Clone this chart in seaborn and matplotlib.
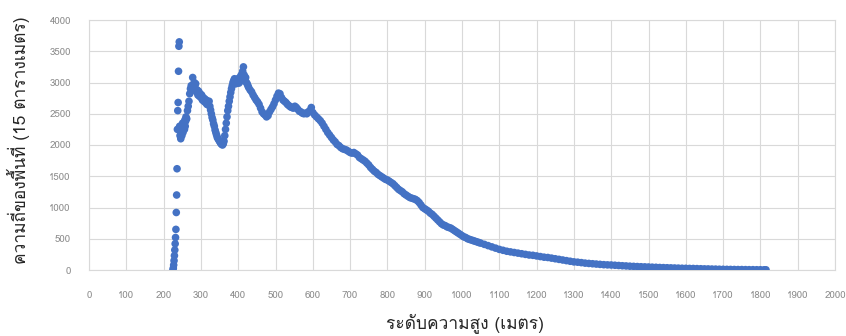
import matplotlib
matplotlib.use("Agg")
import matplotlib.pyplot as plt
import seaborn as sns
import pandas as pd
from matplotlib import font_manager

# ---------------- data ----------------
elevation = [
    225, 226, 227, 228, 229, 230, 231, 232, 233, 234, 235, 236, 237, 238, 239, 240,
    241, 242, 243, 244, 245, 246, 247, 248, 249, 250, 251, 252, 253, 254, 255, 256,
    257, 258, 259, 260,
    262, 264, 266, 268, 270, 272, 274, 276, 278, 280, 282, 284, 286, 288, 290, 292,
    294, 296, 298, 300, 302, 304, 306, 308, 310, 312, 314, 316, 318, 320, 322, 324,
    326, 328, 330, 332, 334, 336, 338, 340, 342, 344, 346, 348, 350, 352, 354, 356,
    358, 360, 362, 364, 366, 368, 370, 372, 374, 376, 378, 380, 382, 384, 386, 388,
    390, 392, 394, 396, 398, 400, 402, 404, 406, 408, 410, 412, 414, 416, 418, 420,
    422, 424, 426, 428,
    432, 436, 440, 444, 448, 452, 456, 460, 464, 468, 472, 476, 480, 484, 488, 492,
    496, 500, 504, 508, 512, 516, 520, 524, 528, 532, 536, 540, 544, 548, 552, 556,
    560, 564, 568, 572, 576, 580, 584, 588, 592, 596, 600,
    605, 610, 615, 620, 625, 630, 635, 640, 645, 650, 655, 660, 665, 670, 675, 680,
    685, 690, 695, 700, 705, 710, 715, 720, 725, 730, 735, 740, 745, 750, 755, 760,
    765, 770, 775, 780, 785, 790, 795, 800, 805, 810, 815, 820, 825, 830, 835, 840,
    845, 850, 855, 860, 865, 870, 875, 880, 885, 890, 895, 900, 905, 910, 915, 920,
    925, 930, 935, 940, 945, 950, 955, 960, 965, 970, 975, 980, 985, 990, 995, 1000,
    1005, 1010, 1015, 1020, 1025, 1030, 1035, 1040, 1045, 1050,
    1060, 1070, 1080, 1090, 1100, 1110, 1120, 1130, 1140, 1150, 1160, 1170, 1180,
    1190, 1200, 1210, 1220, 1230, 1240, 1250, 1260, 1270, 1280, 1290, 1300, 1310,
    1320, 1330, 1340, 1350, 1360, 1370, 1380, 1390, 1400, 1410, 1420, 1430, 1440,
    1450, 1460, 1470, 1480, 1490, 1500, 1510, 1520, 1530, 1540, 1550, 1560, 1570,
    1580, 1590, 1600, 1610, 1620, 1630, 1640, 1650, 1660, 1670, 1680, 1690, 1700,
    1710, 1720, 1730, 1740, 1750, 1760, 1770, 1780, 1790, 1800, 1810, 1815,
]
frequency = [
    0, 30, 80, 150, 230, 320, 420, 520, 650, 920, 1200, 1620, 2250, 2550, 2680, 3180,
    3580, 3650, 2300, 2150, 2250, 2100, 2200, 2300, 2150, 2250, 2350, 2200, 2300, 2280, 2350, 2250,
    2400, 2300, 2380, 2450,
    2420, 2550, 2620, 2700, 2820, 2900, 2950, 2880, 3080, 2950, 3000, 2920, 2980, 2850, 2880, 2800,
    2860, 2780, 2820, 2760, 2800, 2720, 2760, 2700, 2740, 2680, 2720, 2650, 2700, 2640, 2700, 2620,
    2560, 2500, 2440, 2400, 2340, 2300, 2240, 2200, 2160, 2120, 2100, 2080, 2060, 2040, 2020, 2010,
    2000, 2020, 2060, 2150, 2250, 2350, 2450, 2550, 2620, 2700, 2770, 2840, 2900, 2950, 3000, 3030,
    3060, 3000, 2980, 3040, 3000, 3060, 2990, 3080, 3020, 3120, 3050, 3180, 3250, 3120, 3050, 3080,
    3000, 2980, 2950, 2920,
    2880, 2850, 2800, 2760, 2720, 2690, 2650, 2590, 2530, 2500, 2480, 2450, 2470, 2530, 2570, 2610,
    2660, 2720, 2780, 2830, 2820, 2760, 2720, 2700, 2680, 2650, 2630, 2610, 2600, 2590, 2620, 2600,
    2570, 2540, 2530, 2510, 2500, 2510, 2500, 2530, 2550, 2600, 2520,
    2480, 2450, 2420, 2390, 2350, 2300, 2250, 2200, 2160, 2120, 2080, 2050, 2010, 1990, 1960, 1940,
    1930, 1920, 1900, 1880, 1870, 1880, 1860, 1840, 1800, 1780, 1760, 1740, 1710, 1680, 1640, 1610,
    1580, 1560, 1530, 1510, 1490, 1470, 1450, 1440, 1420, 1400, 1380, 1350, 1320, 1290, 1270, 1250,
    1220, 1200, 1180, 1160, 1150, 1140, 1130, 1110, 1080, 1040, 1000, 980, 960, 940, 910, 890,
    860, 830, 800, 770, 740, 720, 710, 690, 680, 670, 650, 630, 610, 590, 570, 550,
    530, 520, 500, 490, 480, 470, 460, 450, 440, 430,
    410, 390, 370, 350, 330, 315, 300, 290, 280, 270, 260, 250, 240,
    235, 225, 215, 205, 200, 190, 180, 170, 160, 150, 140, 130, 125,
    118, 110, 105, 100, 95, 90, 85, 82, 80, 76, 72, 68, 65,
    61, 58, 55, 52, 50, 48, 45, 43, 40, 38, 36, 34, 32,
    30, 28, 27, 25, 24, 22, 20, 18, 17, 15, 14, 12, 11,
    10, 9, 8, 7, 7, 6, 5, 5, 4, 4, 3, 3,
]
x_ticks = list(range(0, 2001, 100))
y_ticks = list(range(0, 4001, 500))
x_label = "ระดับความสูง (เมตร)"
y_label = "ความถี่ของพื้นที่ (15 ตารางเมตร)"

df = pd.DataFrame({"elevation": elevation, "frequency": frequency})

# ---------------- fonts: find a family with Thai glyphs ----------------
sns.set_theme(style="white")
thai_family = None
try:
    from fontTools.ttLib import TTFont
    for f in font_manager.fontManager.ttflist:
        try:
            tt = TTFont(f.fname, fontNumber=0, lazy=True)
            cmap = tt.getBestCmap()
            if cmap and 0x0E01 in cmap and 0x0E49 in cmap:
                thai_family = f.name
                break
        except Exception:
            pass
except Exception:
    pass
families = ([thai_family] if thai_family else []) + ["DejaVu Sans"]
plt.rcParams["font.family"] = families

# ---------------- figure ----------------
fig = plt.figure(figsize=(8.46, 3.36), dpi=100)
ax = fig.add_axes([89 / 846, 1 - 270 / 336, 746 / 846, 250 / 336])

sns.scatterplot(data=df, x="elevation", y="frequency", ax=ax,
                color="#4472C4", s=30, edgecolor="none", linewidth=0, zorder=3)

ax.set_xlim(0, 2000)
ax.set_ylim(0, 4000)
ax.set_xticks(x_ticks)
ax.set_yticks(y_ticks)
ax.grid(True, color="#D9D9D9", linewidth=0.8, zorder=0)
for sp in ax.spines.values():
    sp.set_visible(True)
    sp.set_color("#D9D9D9")
    sp.set_linewidth(0.8)
ax.tick_params(axis="both", length=0, labelsize=7, colors="#8C8C8C")
ax.tick_params(axis="x", pad=15)
ax.tick_params(axis="y", pad=13)

ax.set_xlabel(x_label, fontsize=12.5, color="#262626")
ax.xaxis.set_label_coords((465 - 89) / 746, (270 - 313) / 250)
ax.set_ylabel(y_label, fontsize=12.5, color="#262626")
ax.yaxis.set_label_coords((30 - 89) / 746, (270 - 140) / 250)

fig.savefig("out.png", dpi=100)
